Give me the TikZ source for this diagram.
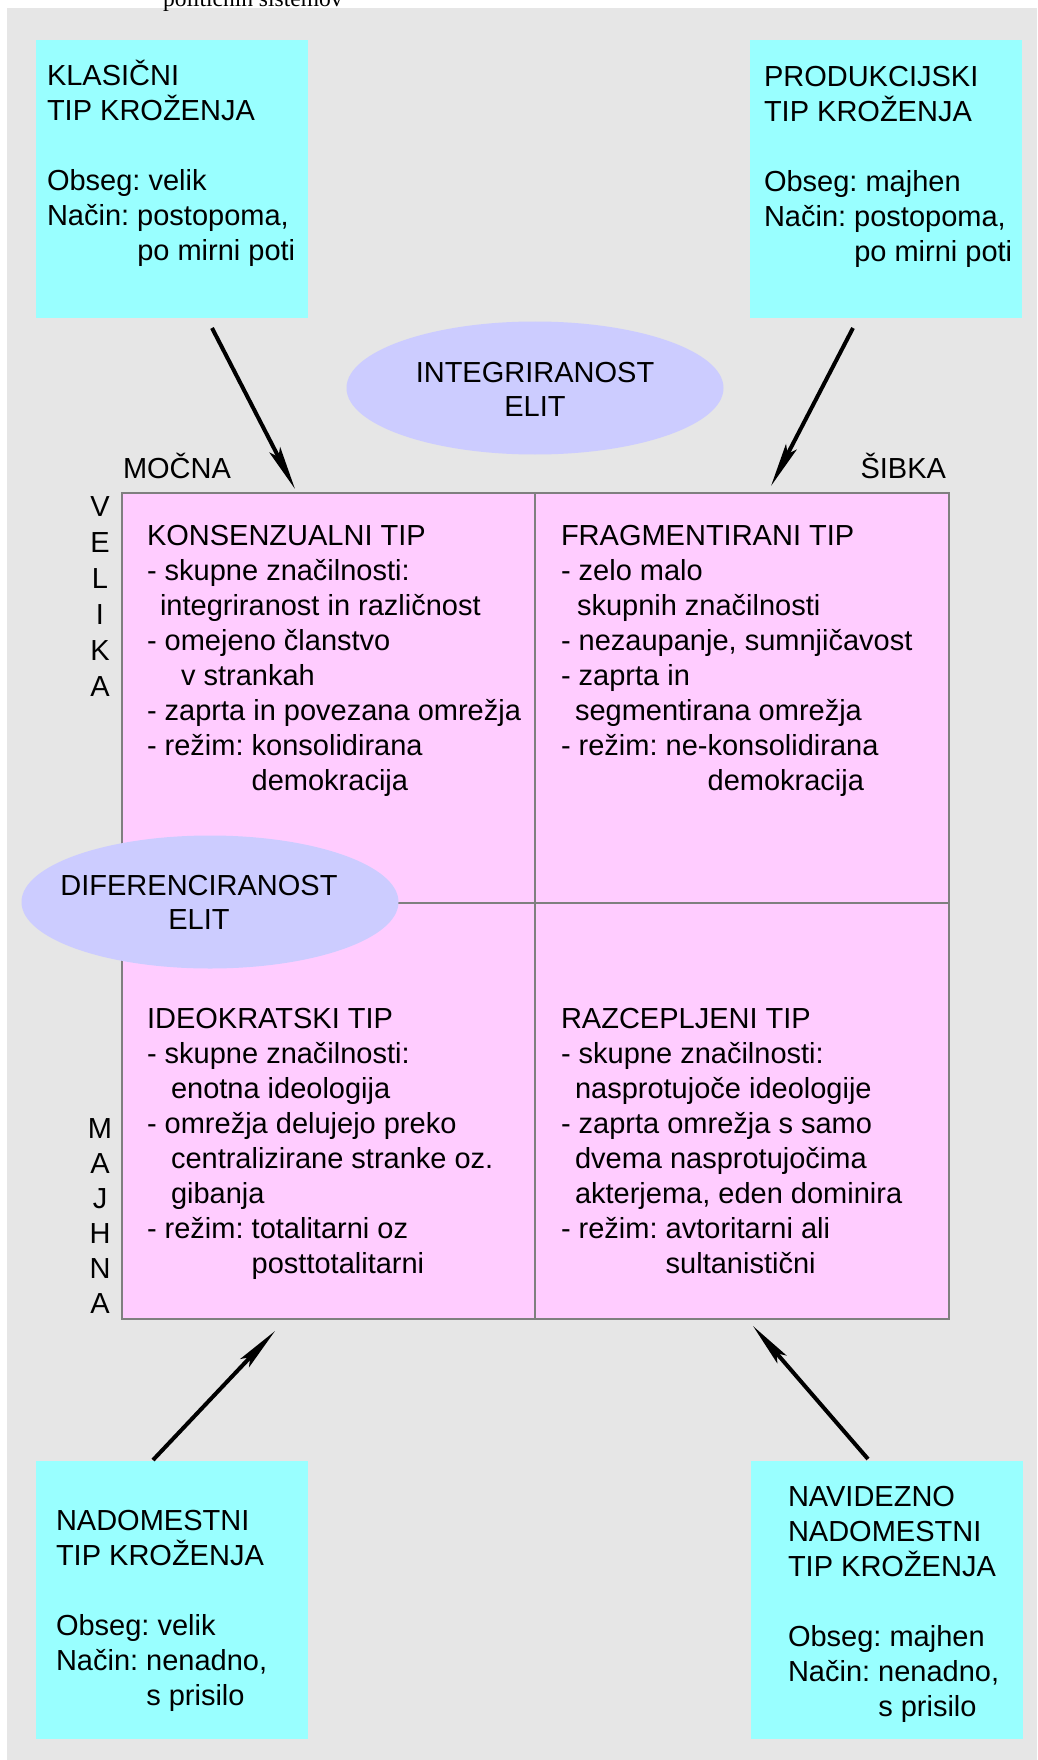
\documentclass[tikz,border=0pt]{standalone}
\usepackage{fontspec}
\setmainfont{Liberation Sans}
\newfontfamily\serifpage{Liberation Serif}
\usetikzlibrary{shapes.geometric,arrows.meta}
\definecolor{bggrey}{HTML}{E6E6E6}
\definecolor{boxcyan}{HTML}{99FFFF}
\definecolor{cellpink}{HTML}{FFCCFF}
\definecolor{ovallav}{HTML}{CCCCFF}
\definecolor{gridline}{HTML}{7F7F7F}
\frenchspacing
\newcommand{\leftrows}[1]{\vtop{\lineskiplimit=-100pt\relax\halign{##\hfil\cr#1\crcr}}}
\newcommand{\midrows}[1]{\vtop{\lineskiplimit=-100pt\relax\halign{\hfil##\hfil\cr#1\crcr}}}
\begin{document}
\begin{tikzpicture}[x=1pt,y=-1pt,
  every node/.style={inner sep=0pt, outer sep=0pt},
  txt/.style={anchor=base west, font=\fontsize{29}{35}\selectfont, text=black},
  ovaltxt/.style={anchor=base, font=\fontsize{29}{34}\selectfont, text=black},
  cyanbox/.style={fill=boxcyan, anchor=north west, minimum width=272pt, minimum height=278pt},
  cellbox/.style={fill=cellpink, draw=gridline, line width=1.5pt, anchor=north west},
  oval/.style={ellipse, fill=ovallav, minimum width=377pt, minimum height=133pt},
  conn/.style={line width=4pt, black, -{Stealth[length=44pt,width=12pt,inset=8pt]}},
]
\useasboundingbox (0,0) rectangle (1037,1760);
\fill[bggrey] (7,8) rectangle (1037,1760);
\begin{scope}
\clip (0,0) rectangle (1037,1760);
\node[anchor=base west, font=\serifpage\fontsize{23.5}{28}\selectfont] (pagecap) at (163,7) {političnih sistemov};
\end{scope}

% corner boxes
\node[cyanbox] (klas) at (36,40) {};
\node[cyanbox] (prod) at (750,40) {};
\node[cyanbox] (nado) at (36,1461) {};
\node[cyanbox] (navi) at (751,1461) {};

\node[txt] (klastxt) at (47,86) {\leftrows{KLASIČNI\cr TIP KROŽENJA\cr\cr Obseg: velik\cr Način: postopoma,\cr \phantom{Način: }po mirni poti}};
\node[txt] (prodtxt) at (764,87) {\leftrows{PRODUKCIJSKI\cr TIP KROŽENJA\cr\cr Obseg: majhen\cr Način: postopoma,\cr \phantom{Način: }po mirni poti}};
\node[txt] (nadotxt) at (56,1530) {\leftrows{NADOMESTNI\cr TIP KROŽENJA\cr\cr Obseg: velik\cr Način: nenadno,\cr \phantom{Način: }s prisilo}};
\node[txt] (navitxt) at (788,1506) {\leftrows{NAVIDEZNO\cr NADOMESTNI\cr TIP KROŽENJA\cr\cr Obseg: majhen\cr Način: nenadno,\cr \phantom{Način: }s prisilo}};

% grid cells
\node[cellbox, minimum width=413pt, minimum height=410pt] (ctl) at (122,493) {};
\node[cellbox, minimum width=414pt, minimum height=410pt] (ctr) at (535,493) {};
\node[cellbox, minimum width=413pt, minimum height=416pt] (cbl) at (122,903) {};
\node[cellbox, minimum width=414pt, minimum height=416pt] (cbr) at (535,903) {};

\node[txt] (ctltxt) at (147,545) {\leftrows{KONSENZUALNI TIP\cr - skupne značilnosti:\cr \hspace*{13pt}integriranost in različnost\cr - omejeno članstvo\cr \hspace*{34pt}v strankah\cr - zaprta in povezana omrežja\cr - režim: konsolidirana\cr \phantom{- režim: }demokracija}};
\node[txt] (ctrtxt) at (561,545) {\leftrows{FRAGMENTIRANI TIP\cr - zelo malo\cr \hspace*{16pt}skupnih značilnosti\cr - nezaupanje, sumnjičavost\cr - zaprta in\cr \hspace*{14pt}segmentirana omrežja\cr - režim: ne-konsolidirana\cr \phantom{- režim: ne-}demokracija}};
\node[txt] (cbltxt) at (147,1028) {\leftrows{IDEOKRATSKI TIP\cr - skupne značilnosti:\cr \hspace*{24pt}enotna ideologija\cr - omrežja delujejo preko\cr \hspace*{24pt}centralizirane stranke oz.\cr \hspace*{24pt}gibanja\cr - režim: totalitarni oz\cr \phantom{- režim: }posttotalitarni}};
\node[txt] (cbrtxt) at (561,1028) {\leftrows{RAZCEPLJENI TIP\cr - skupne značilnosti:\cr \hspace*{14pt}nasprotujoče ideologije\cr - zaprta omrežja s samo\cr \hspace*{14pt}dvema nasprotujočima\cr \hspace*{14pt}akterjema, eden dominira\cr - režim: avtoritarni ali\cr \phantom{- režim: }sultanistični}};

% ovals
\node[oval] (integ) at (535,388) {};
\node[ovaltxt] (integtxt) at (535,382) {\midrows{INTEGRIRANOST\cr ELIT}};
\node[oval] (difer) at (210,902) {};
\node[ovaltxt] (difertxt) at (199,895) {\midrows{DIFERENCIRANOST\cr ELIT}};

% axis labels
\node[txt] (mocna) at (123,478) {MOČNA};
\node[txt, anchor=base east] (sibka) at (946,478) {ŠIBKA};
\node[anchor=base, font=\fontsize{29}{36}\selectfont] (velika) at (100,516) {\midrows{V\cr E\cr L\cr I\cr K\cr A}};
\node[anchor=base, font=\fontsize{29}{35}\selectfont] (majhna) at (100,1138) {\midrows{M\cr A\cr J\cr H\cr N\cr A}};

% connectors
\coordinate (klasend) at (212,328);
\coordinate (klastip) at (295,489);
\coordinate (prodend) at (853,328);
\coordinate (prodtip) at (771,486);
\coordinate (nadoend) at (153,1460);
\coordinate (nadotip) at (275,1331);
\coordinate (naviend) at (868,1459);
\coordinate (navitip) at (753,1326);
\draw[conn] (klasend) -- (klastip);
\draw[conn] (prodend) -- (prodtip);
\draw[conn] (nadoend) -- (nadotip);
\draw[conn] (naviend) -- (navitip);
\end{tikzpicture}
\end{document}
